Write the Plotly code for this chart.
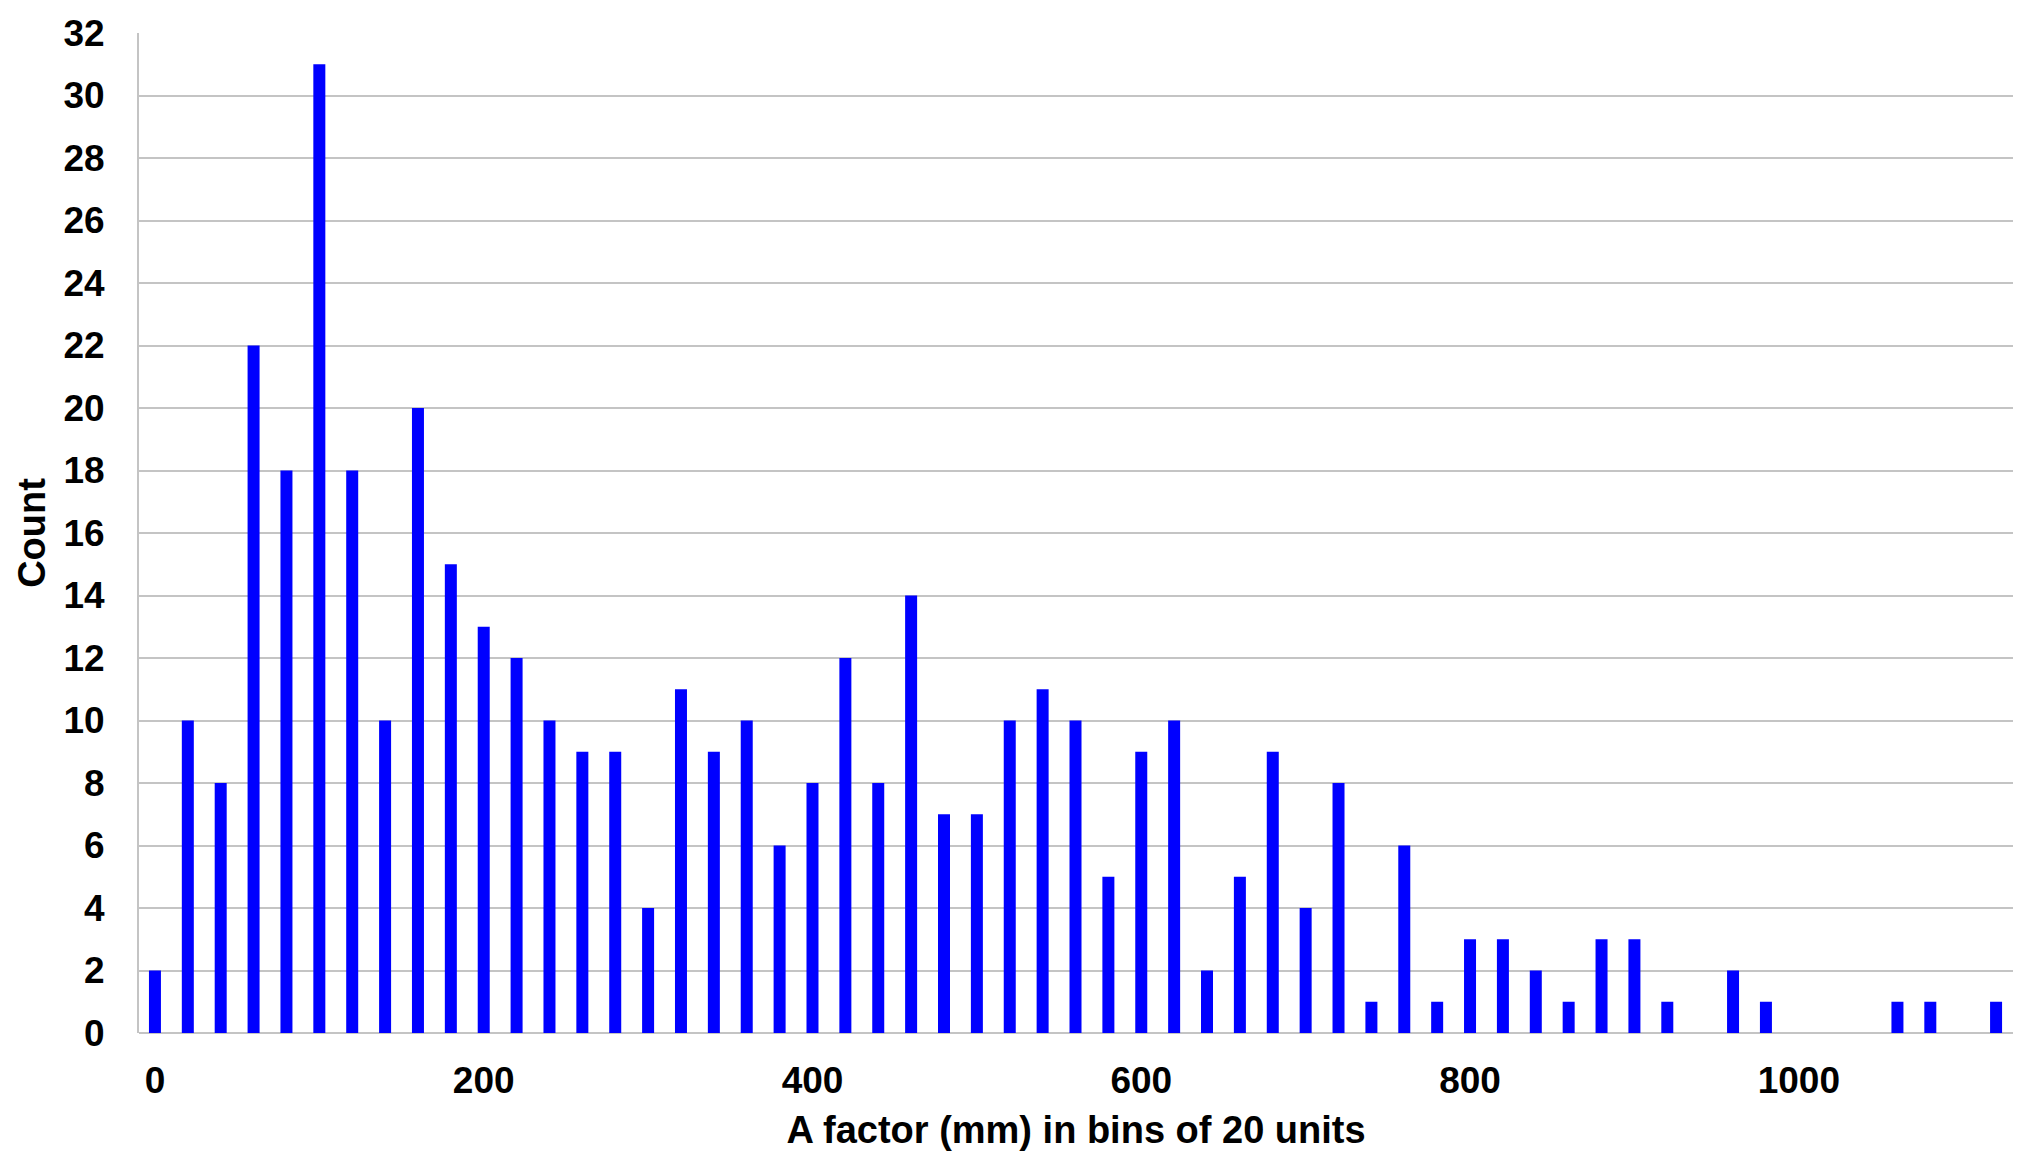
import plotly.graph_objects as go

bin_starts = list(range(0, 1121, 20))
counts = [2, 10, 8, 22, 18, 31, 18, 10, 20, 15,
          13, 12, 10, 9, 9, 4, 11, 9, 10, 6,
          8, 12, 8, 14, 7, 7, 10, 11, 10, 5,
          9, 10, 2, 5, 9, 4, 8, 1, 6, 1,
          3, 3, 2, 1, 3, 3, 1, 0, 2, 1,
          0, 0, 0, 1, 1, 0, 1]
x_ticks = [0, 200, 400, 600, 800, 1000]
y_ticks = list(range(0, 33, 2))

FONT = "Arial, 'Liberation Sans', sans-serif"

fig = go.Figure(go.Bar(x=bin_starts, y=counts, width=7.3,
                       marker=dict(color="#0000FF", line=dict(width=0))))

fig.update_layout(
    width=2028, height=1156,
    margin=dict(l=131, r=23, t=25, b=131, autoexpand=False),
    paper_bgcolor="white", plot_bgcolor="white",
    showlegend=False,
    font=dict(family=FONT, color="black"),
)
fig.update_xaxes(
    range=[-9.7, 1130.3], tickvals=x_ticks, ticktext=[str(v) for v in x_ticks],
    showgrid=False, zeroline=False, showline=False, automargin=False,
    tickfont=dict(size=37, family=FONT, weight="bold"),
    ticks="", ticklabelstandoff=22,
    title=dict(text="<b>A factor (mm) in bins of 20 units</b>",
               font=dict(size=38, family=FONT), standoff=16),
)
fig.update_yaxes(
    range=[0, 32], tickvals=y_ticks, automargin=False,
    showgrid=True, gridcolor="#C4C4C4", gridwidth=2,
    zeroline=True, zerolinecolor="#C4C4C4", zerolinewidth=2,
    showline=True, linecolor="#C4C4C4", linewidth=2,
    tickfont=dict(size=37, family=FONT, weight="bold"),
    ticks="", ticklabelstandoff=25,
    title=dict(text="<b>Count</b>", font=dict(size=38, family=FONT), standoff=6),
)

fig.write_html("out.html")
